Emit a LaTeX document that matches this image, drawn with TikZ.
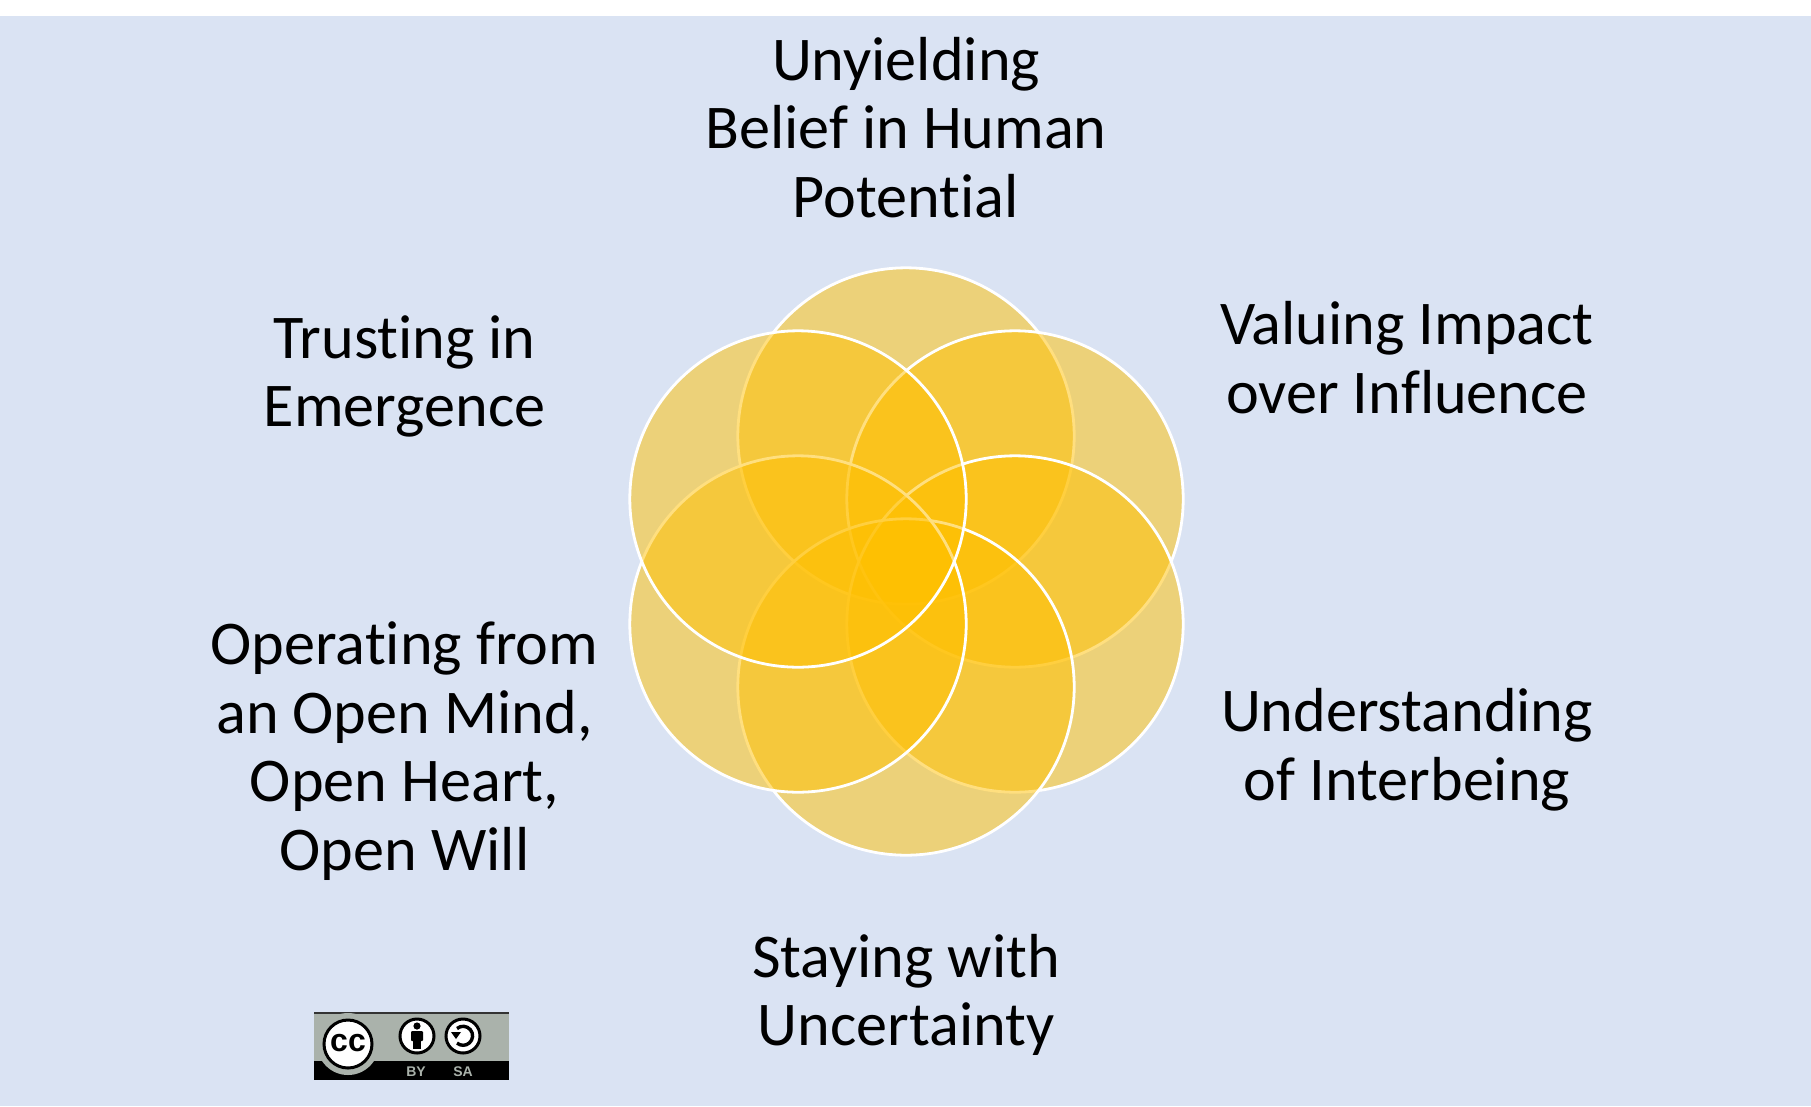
\documentclass[tikz,border=0pt]{standalone}
\usepackage{fontspec}
\setmainfont[Ligatures=NoCommon]{Carlito}
\newfontfamily\badgefont{Liberation Sans}
\definecolor{bgblue}{HTML}{DAE3F3}
\definecolor{petalgold}{HTML}{FFC000}
\definecolor{badgegray}{HTML}{AAB2AB}
\tikzset{
  petal/.style={fill=petalgold,fill opacity=0.5,draw=white,line width=2.8pt},
  lab/.style={font=\fontsize{62.2}{68.7}\selectfont,align=center,text=black,inner sep=0pt},
  badgering/.style={fill=white,draw=black,line width=3pt},
  badgetxt/.style={font=\badgefont\bfseries\fontsize{14}{14}\selectfont,text=badgegray,inner sep=0pt}
}
\begin{document}
\begin{tikzpicture}[x=1pt,y=-1pt]
\useasboundingbox (0,0) rectangle (1811,1106);
\fill[white] (0,0) rectangle (1811,1106);
\fill[bgblue] (0,16) rectangle (1811,1106);
% petals, lowest first
\draw[petal] (906,436) circle[radius=168.2];
\draw[petal] (1015,499) circle[radius=168.2];
\draw[petal] (1015,624) circle[radius=168.2];
\draw[petal] (906,687) circle[radius=168.2];
\draw[petal] (798,624) circle[radius=168.2];
\draw[petal] (798,499) circle[radius=168.2];
% labels
\node[lab] (belief) at (906,127.5) {Unyielding\\Belief in Human\\Potential};
\node[lab] (impact) at (1407,357.5) {Valuing Impact\\over Influence};
\node[lab] (inter) at (1407,750) {Understanding\\of Interbeing};
\node[lab] (uncert) at (906,995) {Staying with\\Uncertainty};
\node[lab] (open) at (404.5,751) {Operating from\\an Open Mind,\\Open Heart,\\Open Will};
\node[lab] (emerge) at (404.5,376.5) {Trusting in\\Emergence};
% licence badge
\fill[badgegray] (314,1012) rectangle (509,1061);
\fill[black!80] (314,1011.5) rectangle (509,1013.5);
\fill[black] (314,1061) rectangle (509,1080);
\begin{scope}
\clip (314,1012) rectangle (509,1080);
\fill[badgegray] (348,1044) circle[radius=31];
\end{scope}
\draw[badgering] (348,1044) circle[radius=24];
\node[inner sep=0pt,font=\badgefont\bfseries\fontsize{32}{32}\selectfont] (cc) at (348,1043) {cc};
\draw[badgering] (417,1036) circle[radius=17];
\fill[black] (417,1026) circle[radius=3.6];
\fill[black,rounded corners=1pt] (411,1031) rectangle (423,1041);
\fill[black] (413,1039) rectangle (421,1049);
\draw[badgering] (463,1036) circle[radius=17];
\draw[black,line width=3.4pt] (457,1028.5) arc[start angle=130,end angle=-130,radius=9.5pt];
\fill[black] (451,1032) -- (461,1032) -- (456,1039) -- cycle;
\node[badgetxt] (by) at (416,1071.5) {BY};
\node[badgetxt] (sa) at (463,1071.5) {SA};
\end{tikzpicture}
\end{document}
